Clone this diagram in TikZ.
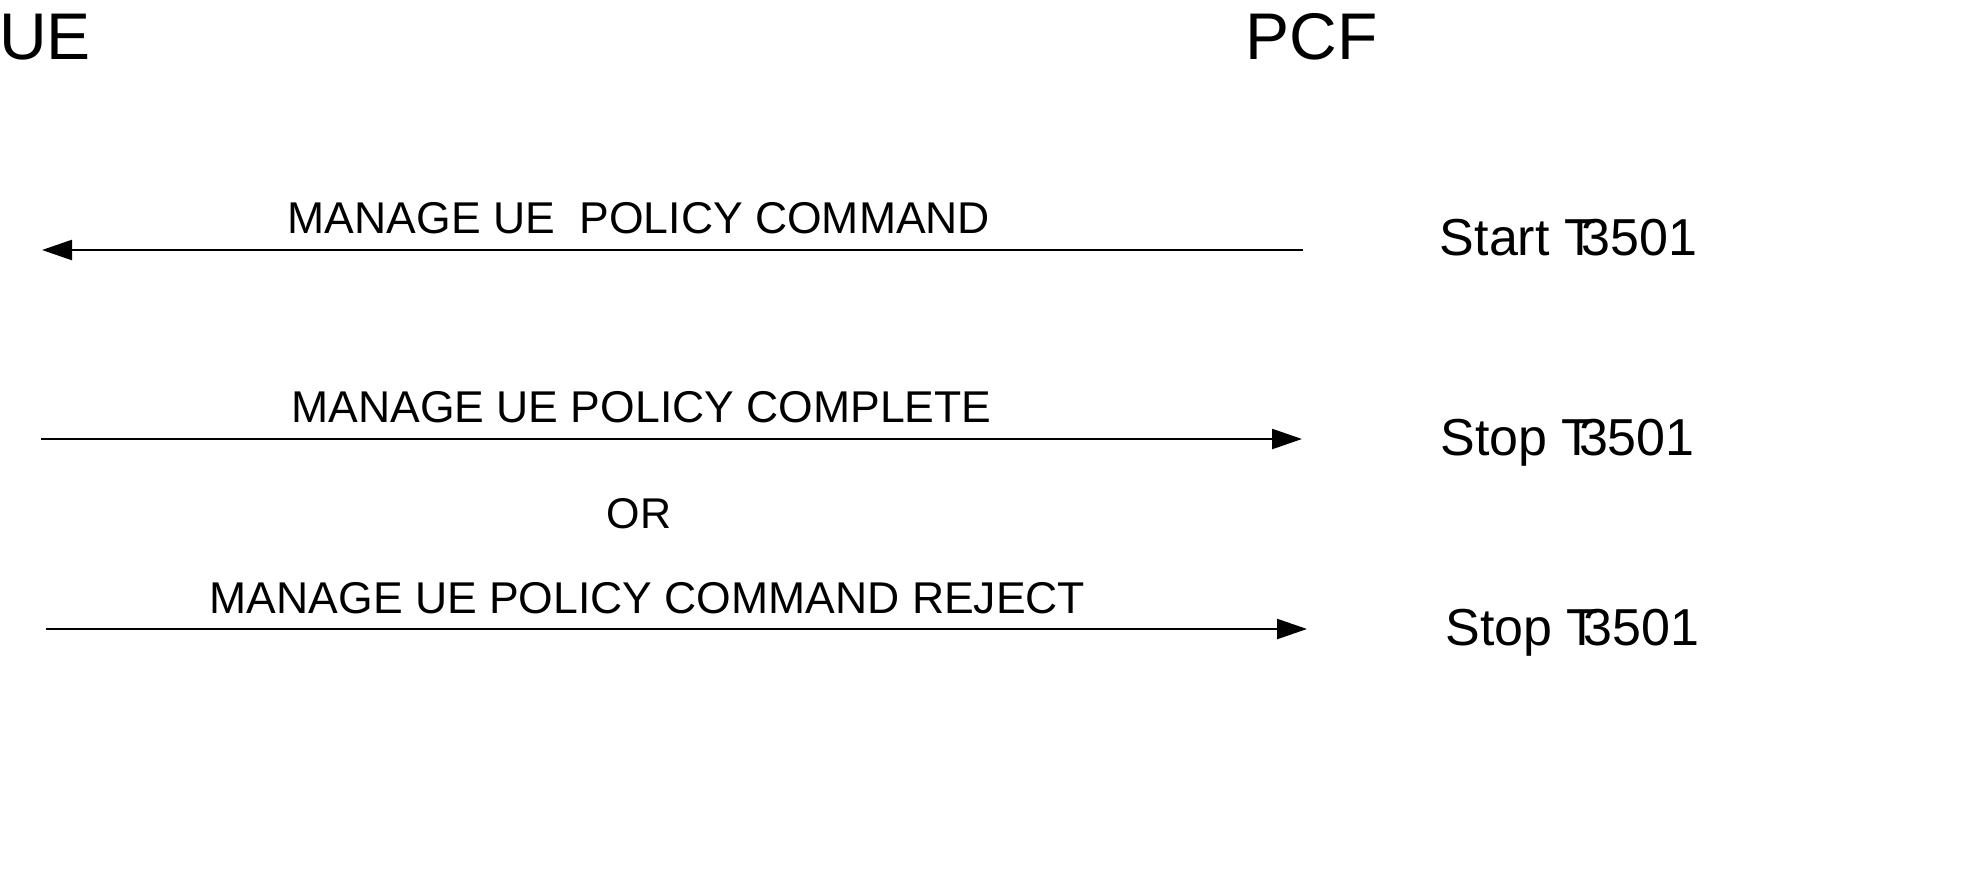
\documentclass[tikz,border=0pt]{standalone}
\usepackage{fontspec}
\setmainfont{Liberation Sans}
\usetikzlibrary{arrows.meta}
\begin{document}
\begin{tikzpicture}[x=1pt,y=-1pt,
  entity/.style={anchor=base,inner sep=0pt,font=\fontsize{66}{70}\selectfont},
  msglabel/.style={anchor=base,inner sep=0pt,font=\fontsize{44.5}{48}\selectfont},
  orlabel/.style={anchor=base,inner sep=0pt,font=\fontsize{43}{48}\selectfont},
  timer/.style={anchor=base,inner sep=0pt,font=\fontsize{52}{56}\selectfont},
  msg/.style={line width=2.4pt,-{Triangle[length=30pt,width=20pt]}}]
\useasboundingbox (0,0) rectangle (1962,895);
\node[entity] (ue) at (45,59) {UE};
\node[entity] (pcf) at (1311.5,59) {PCF};
% message 1
\coordinate (m1s) at (1303,250);
\coordinate (m1e) at (42,250);
\draw[msg] (m1s) -- (m1e);
\node[msglabel] (l1) at (639,233) {MANAGE UE\ \ POLICY COMMAND};
\node[timer] (t1) at (1568.5,255) {Start T\kern-0.28em 3501};
% message 2
\coordinate (m2s) at (41,439);
\coordinate (m2e) at (1302,439);
\draw[msg] (m2s) -- (m2e);
\node[msglabel] (l2) at (641.5,422) {MANAGE UE POLICY COMPLETE};
\node[timer] (t2) at (1567.5,455) {Stop T\kern-0.28em 3501};
\node[orlabel] (or) at (639,528) {OR};
% message 3
\coordinate (m3s) at (46,629);
\coordinate (m3e) at (1307,629);
\draw[msg] (m3s) -- (m3e);
\node[msglabel] (l3) at (647.5,613) {MANAGE UE POLICY COMMAND REJECT};
\node[timer] (t3) at (1572.5,645) {Stop T\kern-0.28em 3501};
\end{tikzpicture}
\end{document}
